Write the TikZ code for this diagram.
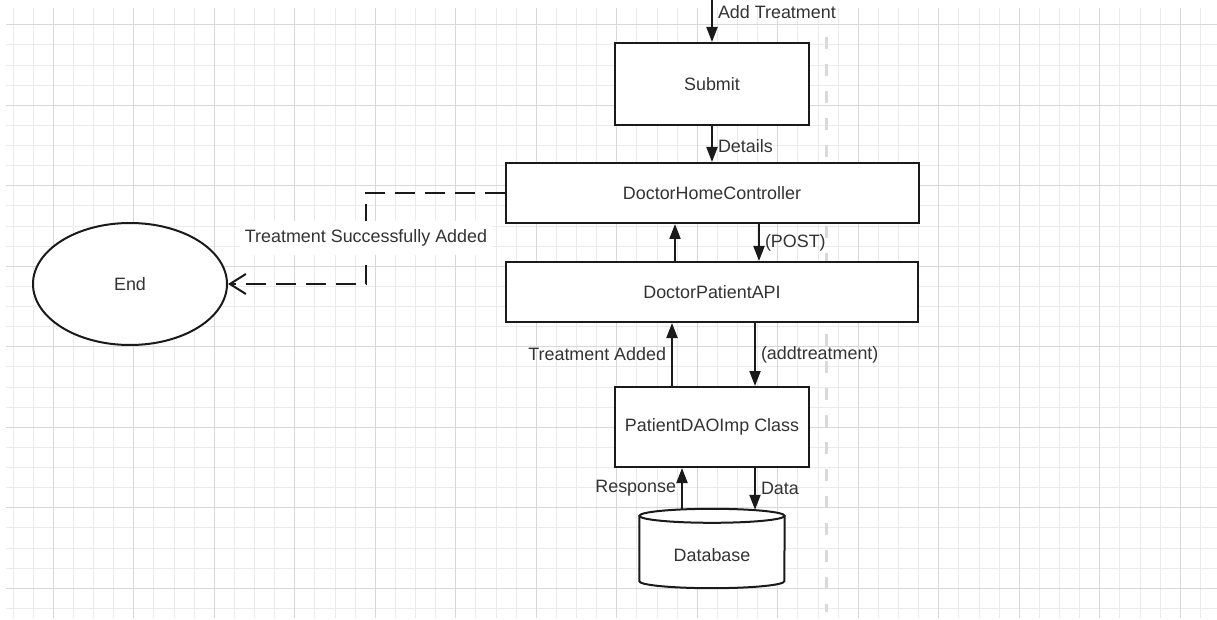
\documentclass[tikz,border=0pt]{standalone}
\usepackage{fontspec}
\setmainfont{Liberation Sans}
\usetikzlibrary{arrows.meta,shapes.geometric}

\definecolor{gridminor}{HTML}{EBEBEB}
\definecolor{gridmajor}{HTML}{D8D8D8}
\definecolor{inkline}{HTML}{1A1A1A}
\definecolor{inktext}{HTML}{333333}

\tikzset{
  box/.style={draw=inkline, line width=2pt, fill=white, rectangle, text=inktext},
  flow/.style={draw=inkline, line width=2pt, -{Triangle[length=15pt,width=11pt]}},
  reply/.style={draw=inkline, line width=2pt, dash pattern=on 20pt off 10pt,
    -{Straight Barb[length=16pt,width=20pt]}},
  lbl/.style={text=inktext, inner sep=5pt}
}

\begin{document}
\begin{tikzpicture}[x=1pt, y=-1pt, font=\fontsize{17.9}{21}\selectfont]
\useasboundingbox (0,0) rectangle (1217,620);
\fill[white] (0,0) rectangle (1217,620);
% grid paper
\foreach \i in {0,...,59}
  \draw[gridminor, line width=1pt] ({13.05+20.125*\i},8) -- ++(0,610);
\foreach \j in {0,...,29}
  \draw[gridminor, line width=1pt] (6,{24.8+20.125*\j}) -- (1217,{24.8+20.125*\j});
\foreach \i in {0,...,14}
  \draw[gridmajor, line width=1pt] ({53.3+80.5*\i},8) -- ++(0,610);
\foreach \j in {0,...,7}
  \draw[gridmajor, line width=1pt] (6,{24.8+80.5*\j}) -- (1217,{24.8+80.5*\j});
\draw[gray!30, line width=3pt, dash pattern=on 12pt off 15pt] (826,37) -- (826,612);

\coordinate (top) at (712,0);
\node[box, minimum width=194pt, minimum height=82pt] (submit) at (712,84) {Submit};
\node[box, minimum width=413pt, minimum height=60pt] (dhc) at (712,193) {DoctorHomeController};
\node[box, minimum width=412pt, minimum height=60pt] (dpa) at (712,292) {DoctorPatientAPI};
\node[box, minimum width=194pt, minimum height=80pt] (dao) at (712,427) {PatientDAOImp Class};
\node[box, ellipse, minimum width=194pt, minimum height=122pt] (end) at (130,284) {End};
\node[minimum width=145pt, minimum height=79pt] (db) at (712,548.5) {};
% database cylinder
\fill[white] ([yshift=-7pt]db.north west) rectangle ([yshift=7pt]db.south east);
\fill[white] ([yshift=7pt]db.south) ellipse [x radius=72.5pt, y radius=7pt];
\draw[inkline, line width=2pt] ([yshift=-7pt]db.north west) -- ([yshift=7pt]db.south west)
  arc [start angle=180, end angle=360, x radius=72.5pt, y radius=7pt] -- ([yshift=-7pt]db.north east);
\draw[inkline, line width=2pt, fill=white] ([yshift=-7pt]db.north) ellipse [x radius=72.5pt, y radius=7pt];
\node[text=inktext] (dbname) at ([yshift=-7pt]db.center) {Database};

\draw[flow] (top) -- node[lbl, right, pos=0.3] {Add Treatment} (submit);
\draw[flow] (submit) -- node[lbl, right, pos=0.55] {Details} (dhc);
\draw[flow] ([xshift=-37pt]dpa.north) -- ([xshift=-37pt]dhc.south);
\draw[flow] ([xshift=47pt]dhc.south) -- node[lbl, right] {(POST)} ([xshift=47pt]dpa.north);
\draw[flow] ([xshift=-40pt]dao.north) -- node[lbl, left] {Treatment Added} ([xshift=-40pt]dao.north |- dpa.south);
\draw[flow] ([xshift=43pt]dpa.south) -- node[lbl, right] {(addtreatment)} ([xshift=43pt]dpa.south |- dao.north);
\draw[flow] ([xshift=-30pt]db.north) -- node[lbl, left] {Response} ([xshift=-30pt]db.north |- dao.south);
\draw[flow] ([xshift=43pt]dao.south) -- node[lbl, right] {Data} ([xshift=43pt,yshift=-1pt]dao.south |- db.north);

\coordinate (turn) at (366,238);
\draw[reply] (dhc.west) -| (turn) node[lbl, fill=white, inner ysep=9pt] {Treatment Successfully Added} |- (end.east);
\end{tikzpicture}
\end{document}
